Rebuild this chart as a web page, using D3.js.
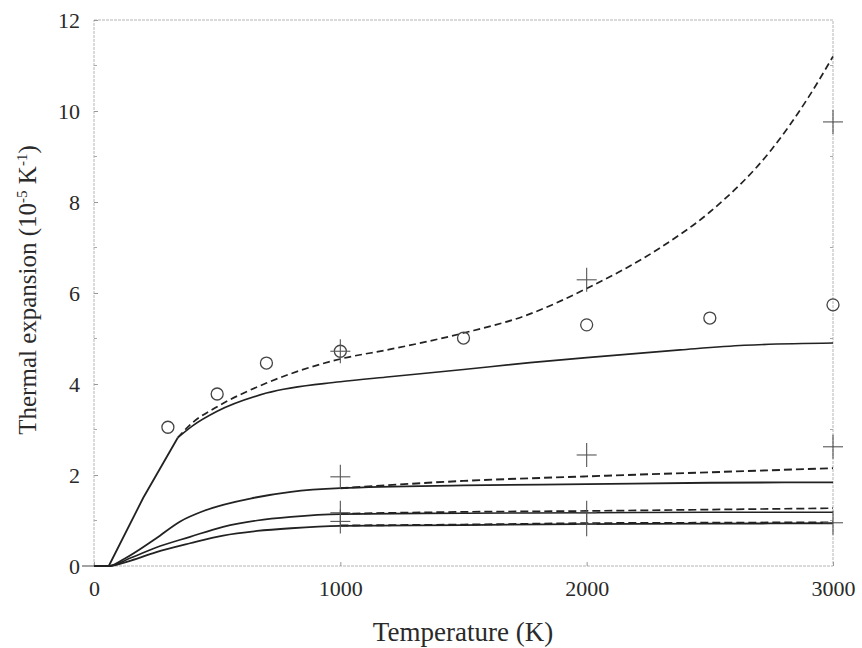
<!DOCTYPE html>
<html>
<head>
<meta charset="utf-8">
<script src="https://cdn.jsdelivr.net/npm/d3@7"></script>
<style>
  html, body { margin: 0; padding: 0; background: #fff; }
  svg { display: block; }
  text { font-family: "Liberation Serif", "DejaVu Serif", serif; fill: #2a2a2a; }
</style>
</head>
<body>
<svg id="chart" width="862" height="648"></svg>
<script>
// ---------- data ----------
const xTicks = [0, 1000, 2000, 3000];
const yTicks = [0, 2, 4, 6, 8, 10, 12];

// upper pair: steep common rise up to the kink, then solid and dashed branches
const riseT = [0, 60, 200, 340];
const riseV = [0, 0, 1.5, 2.82];
const upperSolidT = [340, 400, 500, 700, 1000, 1200, 1500, 1770, 2000, 2380, 2640, 3000];
const upperSolidV = [2.82, 3.08, 3.4, 3.8, 4.05, 4.16, 4.32, 4.47, 4.58, 4.75, 4.85, 4.9];
const upperDashT = [340, 400, 500, 700, 1000, 1200, 1500, 1750, 2000, 2300, 2500, 2750, 2900, 3000];
const upperDashV = [2.82, 3.15, 3.5, 4.02, 4.55, 4.76, 5.12, 5.5, 6.1, 7.0, 7.78, 9.15, 10.3, 11.2];

// lower groups
const aSolidT = [0, 60, 120, 250, 350, 450, 650, 800, 1000, 1500, 2000, 2500, 3000];
const aSolidV = [0, 0, 0.15, 0.6, 0.98, 1.22, 1.5, 1.63, 1.71, 1.77, 1.8, 1.83, 1.84];
const aDashT = [1000, 1500, 2000, 2500, 3000];
const aDashV = [1.71, 1.87, 1.97, 2.06, 2.15];

const bSolidT = [0, 60, 150, 250, 390, 524, 662, 800, 1000, 1500, 2000, 2500, 3000];
const bSolidV = [0, 0, 0.18, 0.4, 0.64, 0.86, 1.0, 1.08, 1.14, 1.16, 1.17, 1.18, 1.18];
const bDashT = [1000, 1500, 2000, 2500, 3000];
const bDashV = [1.15, 1.19, 1.21, 1.24, 1.27];

const cSolidT = [0, 60, 150, 250, 390, 524, 662, 800, 1000, 1500, 2000, 2500, 3000];
const cSolidV = [0, 0, 0.12, 0.3, 0.5, 0.67, 0.77, 0.83, 0.88, 0.9, 0.92, 0.93, 0.94];
const cDashT = [1000, 1500, 2000, 2500, 3000];
const cDashV = [0.89, 0.91, 0.94, 0.95, 0.96];

// experimental points
const circleT = [300, 500, 700, 1000, 1500, 2000, 2500, 3000];
const circleV = [3.05, 3.78, 4.46, 4.72, 5.01, 5.3, 5.45, 5.74];
const plusT = [1000, 2000, 3000, 1000, 2000, 3000, 1000, 1000, 2000, 2000, 3000];
const plusV = [4.72, 6.29, 9.76, 1.96, 2.44, 2.62, 1.17, 0.98, 1.17, 0.92, 0.95];

// ---------- drawing ----------
const svg = d3.select("#chart");
const x = d3.scaleLinear().domain([0, 3000]).range([94, 833]);
const y = d3.scaleLinear().domain([0, 12]).range([566, 20]);

const zip = (t, v) => t.map((d, i) => ({ t: d, v: v[i] }));
const makeLine = curve => d3.line().x(d => x(d.t)).y(d => y(d.v)).curve(curve);

// frame (faint, scanned look)
svg.append("rect")
  .attr("x", x(0)).attr("y", y(12))
  .attr("width", x(3000) - x(0)).attr("height", y(0) - y(12))
  .attr("fill", "none").attr("stroke", "#b5b5b5").attr("stroke-width", 1)
  .attr("stroke-dasharray", "3,1");

// axes with inward ticks
const gy = svg.append("g").attr("transform", `translate(${x(0)},0)`)
  .call(d3.axisLeft(y).tickValues(yTicks).tickSize(-4).tickPadding(14).tickFormat(d3.format("d")));
gy.select(".domain").remove();
gy.selectAll(".tick line").attr("stroke", "#999");
gy.selectAll(".tick text").attr("font-size", 22).attr("fill", "#3a3a3a");

const gx = svg.append("g").attr("transform", `translate(0,${y(0)})`)
  .call(d3.axisBottom(x).tickValues(xTicks).tickSize(-4).tickPadding(14).tickFormat(d3.format("d")));
gx.select(".domain").remove();
gx.selectAll(".tick line").attr("stroke", "#999");
gx.selectAll(".tick text").attr("font-size", 22).attr("fill", "#3a3a3a");

// minor ticks on both vertical sides
const minorY = d3.range(1, 12, 2);
svg.append("g").selectAll("line").data(minorY).join("line")
  .attr("x1", x(0)).attr("x2", x(0) + 3).attr("y1", d => y(d)).attr("y2", d => y(d))
  .attr("stroke", "#aaa");
svg.append("g").selectAll("line").data(minorY).join("line")
  .attr("x1", x(3000)).attr("x2", x(3000) - 3).attr("y1", d => y(d)).attr("y2", d => y(d))
  .attr("stroke", "#aaa");
// short tick stub at origin
svg.append("line").attr("x1", x(0) - 12).attr("x2", x(0)).attr("y1", y(0)).attr("y2", y(0))
  .attr("stroke", "#666").attr("stroke-width", 1.2);

// curves
const curves = [
  { t: riseT, v: riseV, dash: null, w: 1.8, curve: d3.curveLinear },
  { t: upperSolidT, v: upperSolidV, dash: null, w: 1.6, curve: d3.curveMonotoneX },
  { t: upperDashT, v: upperDashV, dash: "7,4", w: 1.7, curve: d3.curveMonotoneX },
  { t: aSolidT, v: aSolidV, dash: null, w: 1.8, curve: d3.curveMonotoneX },
  { t: aDashT, v: aDashV, dash: "8,4", w: 1.9, curve: d3.curveMonotoneX },
  { t: bSolidT, v: bSolidV, dash: null, w: 1.6, curve: d3.curveMonotoneX },
  { t: bDashT, v: bDashV, dash: "8,4", w: 1.7, curve: d3.curveMonotoneX },
  { t: cSolidT, v: cSolidV, dash: null, w: 1.8, curve: d3.curveMonotoneX },
  { t: cDashT, v: cDashV, dash: "8,4", w: 1.9, curve: d3.curveMonotoneX }
];
svg.append("g").selectAll("path").data(curves).join("path")
  .attr("d", d => makeLine(d.curve)(zip(d.t, d.v)))
  .attr("fill", "none")
  .attr("stroke", "#222")
  .attr("stroke-width", d => d.w)
  .attr("stroke-dasharray", d => d.dash);

// circles
svg.append("g").selectAll("circle").data(zip(circleT, circleV)).join("circle")
  .attr("cx", d => x(d.t)).attr("cy", d => y(d.v)).attr("r", 6)
  .attr("fill", "none").attr("stroke", "#444").attr("stroke-width", 1.3);

// pluses
const pl = svg.append("g").attr("stroke", "#555").attr("stroke-width", 1.1);
zip(plusT, plusV).forEach(d => {
  pl.append("line").attr("x1", x(d.t) - 10).attr("x2", x(d.t) + 10).attr("y1", y(d.v)).attr("y2", y(d.v));
  pl.append("line").attr("x1", x(d.t)).attr("x2", x(d.t)).attr("y1", y(d.v) - 12).attr("y2", y(d.v) + 12);
});

// axis titles
svg.append("text")
  .attr("x", 463).attr("y", 641)
  .attr("text-anchor", "middle")
  .attr("font-size", 27)
  .text("Temperature (K)");

const yt = svg.append("text")
  .attr("transform", "translate(36,290) rotate(-90)")
  .attr("text-anchor", "middle")
  .attr("font-size", 25);
yt.append("tspan").text("Thermal expansion (10");
yt.append("tspan").attr("font-size", 15).attr("dy", -9).text("-5");
yt.append("tspan").attr("dy", 9).text(" K");
yt.append("tspan").attr("font-size", 15).attr("dy", -9).text("-1");
yt.append("tspan").attr("dy", 9).text(")");
</script>
</body>
</html>
